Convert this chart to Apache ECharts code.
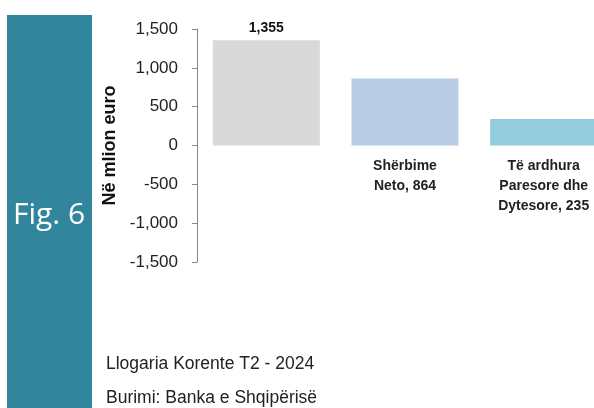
<!DOCTYPE html>
<html>
<head>
<meta charset="utf-8">
<script src="https://cdn.jsdelivr.net/npm/echarts@6/dist/echarts.min.js"></script>
<style>
  html, body { margin: 0; padding: 0; background: #fff; overflow: hidden; }
  /* the last bar is cut off by the right edge in the original, so the chart is wider than the window */
  #chart { width: 614px; height: 408px; }
</style>
</head>
<body>
<div id="chart"></div>
<script>
// categories as printed under the bars (first one has no label)
const categories = ["", "Shërbime\nNeto, 864", "Të ardhura\nParesore dhe\nDytesore, 235"];
// bar heights
const values = [1355, 864, 340];
const barColors = ["#d9d9d9", "#b9cde5", "#93cddd"];
const yTicks = { min: -1500, max: 1500, interval: 500 };

const chart = echarts.init(document.getElementById("chart"));

chart.setOption({
  animation: false,
  grid: { left: 197, right: 1, top: 29, bottom: 146 },
  graphic: [
    {
      type: "rect",
      shape: { x: 7, y: 15, width: 85, height: 400 },
      style: { fill: "#31859c" },
    },
    {
      type: "text",
      left: 13,
      top: 200,
      style: { text: "Fig. 6", fill: "#fff", font: "30px 'Open Sans', sans-serif" },
    },
    {
      type: "text",
      left: 106,
      top: 355,
      style: { text: "Llogaria Korente T2 - 2024", fill: "#222", font: "17.5px 'Liberation Sans', sans-serif" },
    },
    {
      type: "text",
      left: 106,
      top: 389,
      style: { text: "Burimi: Banka e Shqipërisë", fill: "#222", font: "17.5px 'Liberation Sans', sans-serif" },
    },
  ],
  xAxis: {
    type: "category",
    data: categories,
    axisLine: { show: false },
    axisTick: { show: false },
    axisLabel: {
      interval: 0,
      color: "#222",
      fontWeight: "bold",
      fontSize: 14,
      lineHeight: 20,
      fontFamily: "'Liberation Sans', sans-serif",
      margin: 10,
    },
    position: "bottom",
    // labels sit just under the zero line, not under the axis bottom
    offset: -116,
  },
  yAxis: {
    type: "value",
    min: yTicks.min,
    max: yTicks.max,
    interval: yTicks.interval,
    name: "Në mlion euro",
    nameLocation: "middle",
    nameGap: 70,
    nameTextStyle: {
      color: "#111",
      fontWeight: "bold",
      fontSize: 18,
      fontFamily: "'Liberation Sans', sans-serif",
    },
    axisLine: { show: true, lineStyle: { color: "#888", width: 1 } },
    axisTick: { show: true, inside: false, length: 5, lineStyle: { color: "#888" } },
    splitLine: { show: false },
    axisLabel: {
      color: "#222",
      fontSize: 17,
      margin: 19,
      fontFamily: "'Liberation Sans', sans-serif",
      formatter: (v) => v.toLocaleString("en-US"),
    },
  },
  series: [
    {
      type: "bar",
      data: values.map((v, i) => ({
        value: v,
        itemStyle: { color: barColors[i] },
        label: {
          show: i === 0,
          position: "top",
          distance: 5,
          color: "#111",
          fontWeight: "bold",
          fontSize: 14,
          fontFamily: "'Liberation Sans', sans-serif",
          formatter: () => "1,355",
        },
      })),
      barWidth: 107,
    },
  ],
});
</script>
</body>
</html>
